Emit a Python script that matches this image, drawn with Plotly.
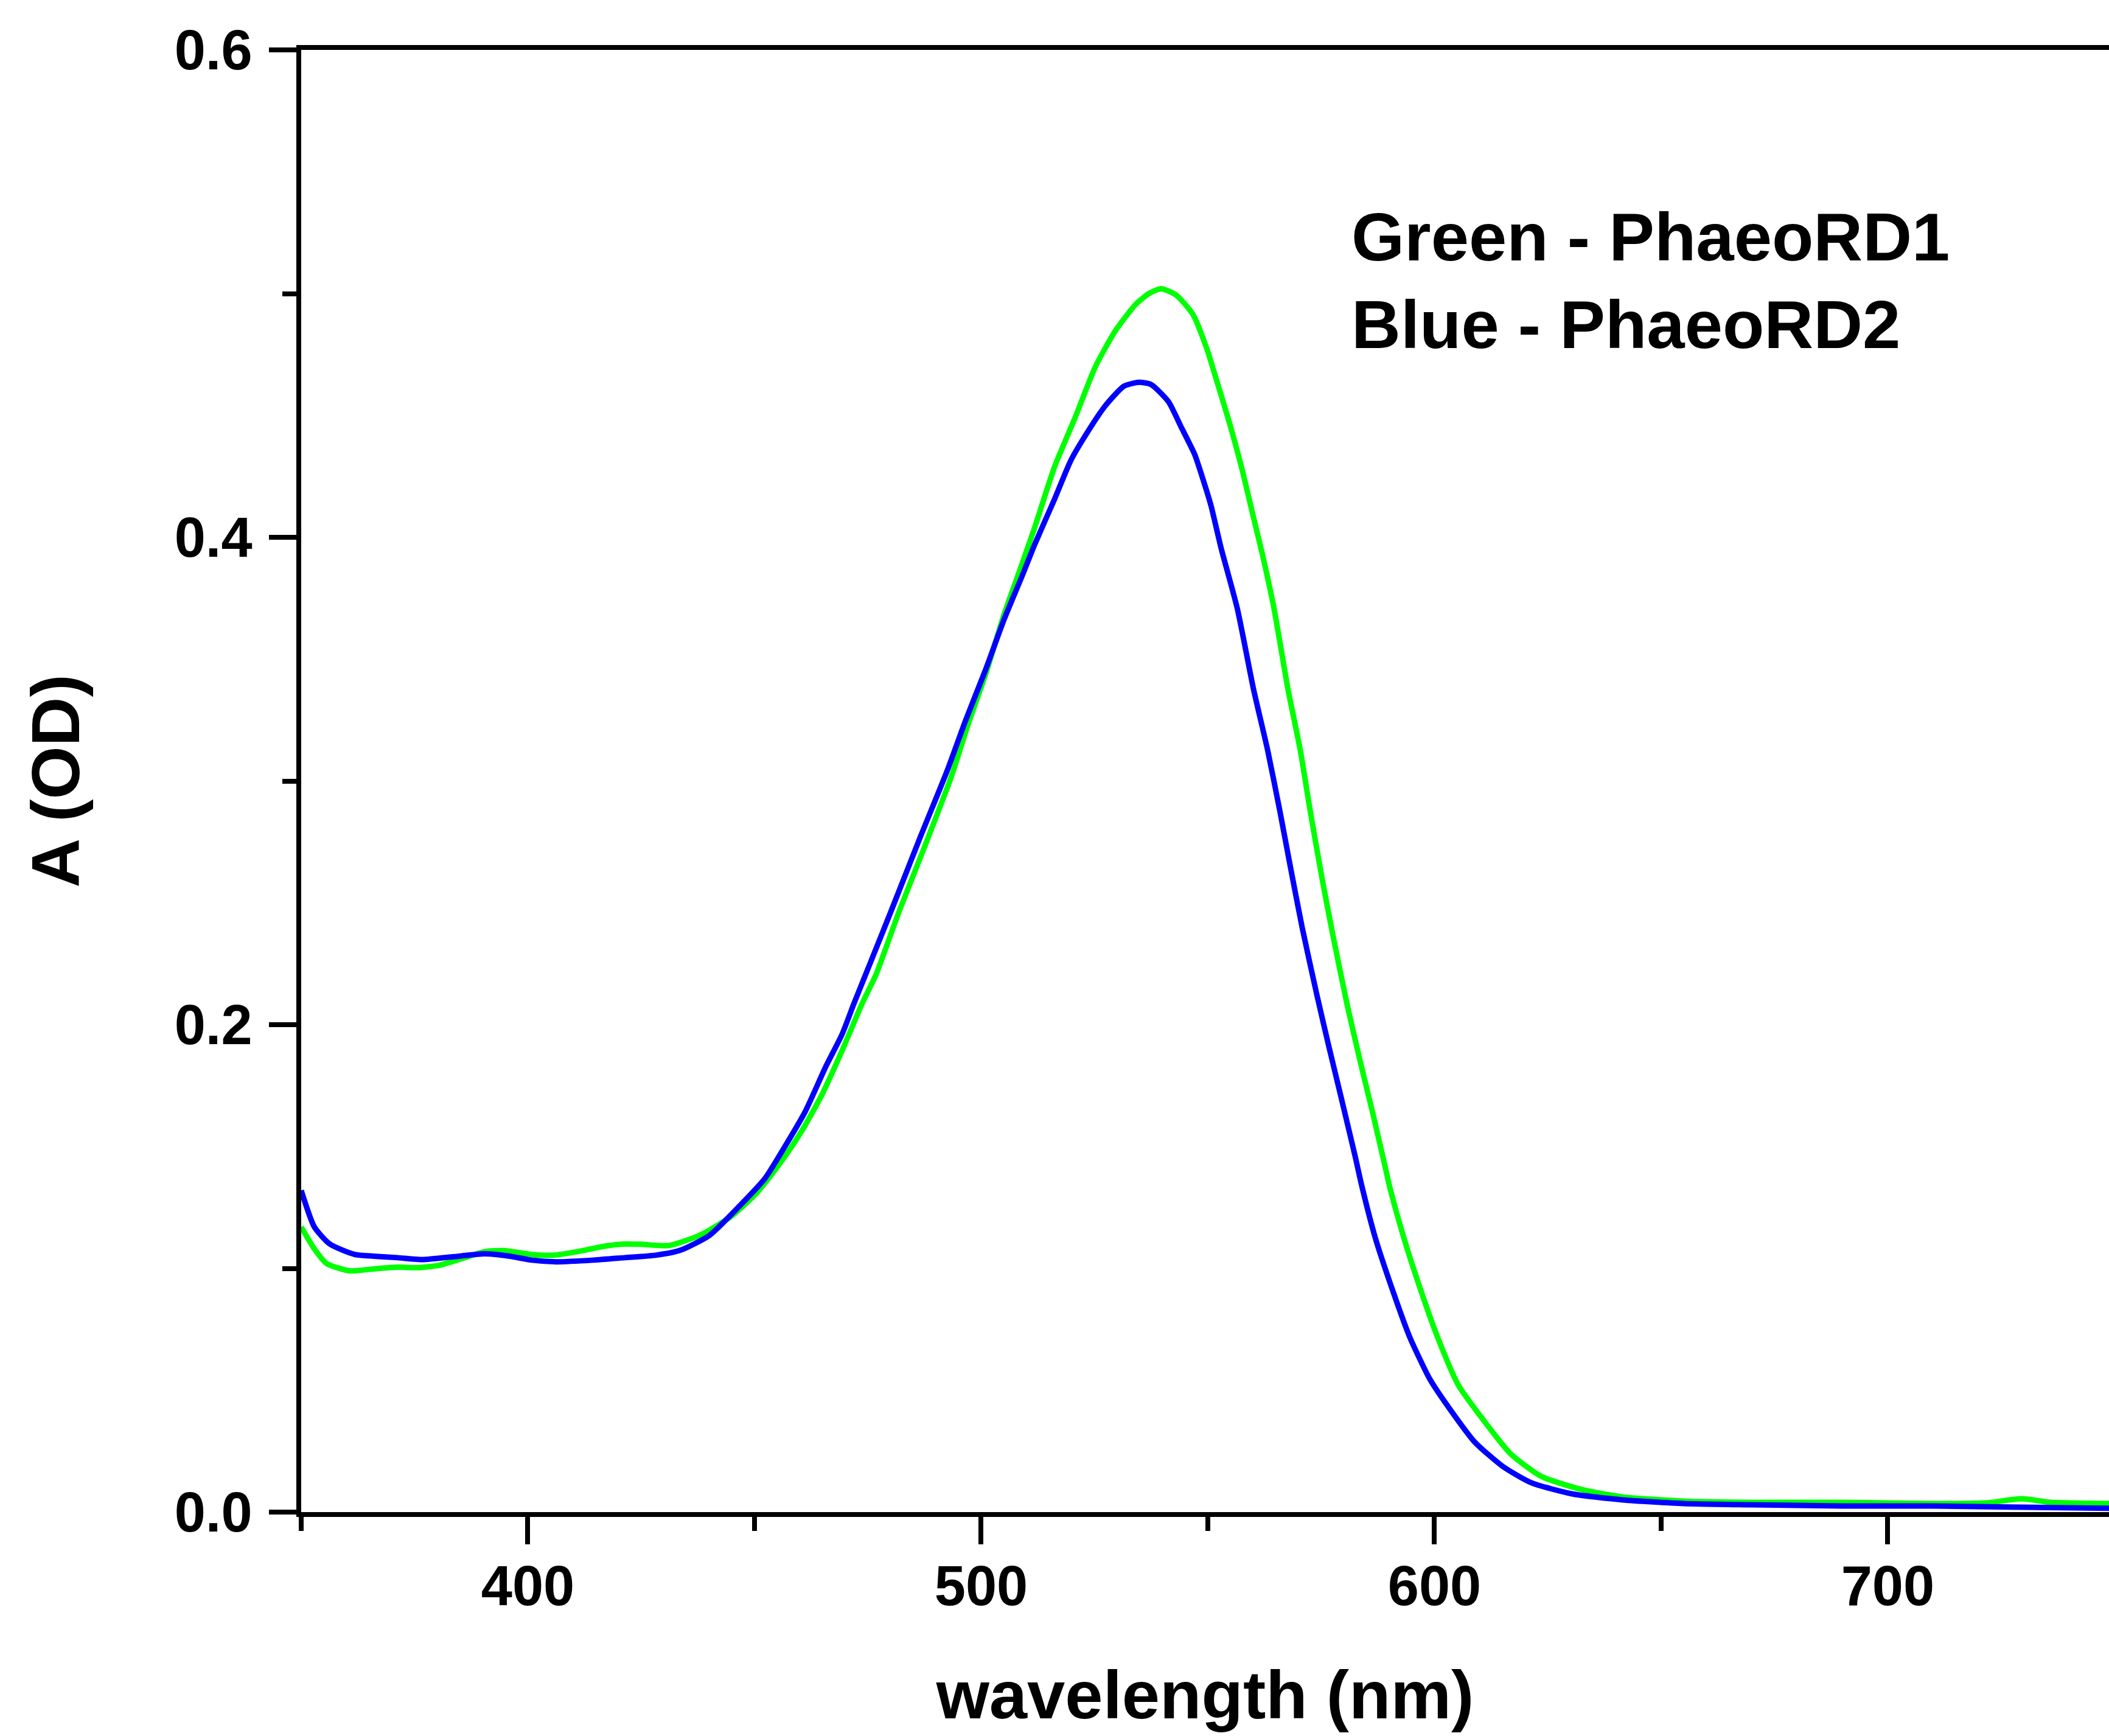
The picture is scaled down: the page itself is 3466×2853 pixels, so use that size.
import plotly.graph_objects as go

# PhaeoRD2 (blue)
blue_wl = [350, 352.9, 356.3, 361.8, 366, 371.3, 376.8, 383.7, 390.5, 396, 400.8, 406.3,
           414.5, 421.4, 428.2, 433.6, 440.1, 446.9, 452.3, 456.7, 461.2, 465.7, 469.3,
           471.9, 474.6, 480, 486.7, 492.5, 496.6, 501, 505, 509, 511.8, 516.2, 519.8,
           523.4, 527.4, 531.5, 534.8, 537.5, 541.3, 544, 547.1, 548.9, 550.7, 552.9,
           556.5, 560.1, 563.2, 565.9, 568.1, 570.8, 574, 576.6, 579.3, 582.5, 584,
           586.9, 590.9, 594.5, 599, 603.5, 608.9, 615.1, 621.4, 630.3, 641.5, 655, 670,
           690, 710, 730, 750]
blue_a = [0.132, 0.117, 0.110, 0.1057, 0.105, 0.1044, 0.1036, 0.1048, 0.106, 0.105, 0.1034,
          0.1027, 0.1034, 0.1044, 0.1054, 0.1074, 0.1136, 0.126, 0.1369, 0.150, 0.1644,
          0.1827, 0.196, 0.2085, 0.221, 0.246, 0.2776, 0.3042, 0.325, 0.3458, 0.366, 0.384,
          0.397, 0.4157, 0.4316, 0.443, 0.454, 0.462, 0.4636, 0.4627, 0.4557, 0.4457, 0.434,
          0.424, 0.413, 0.3958, 0.3708, 0.3375, 0.3126, 0.2876, 0.2659, 0.240, 0.2127,
          0.1918, 0.171, 0.146, 0.1336, 0.1128, 0.0903, 0.072, 0.0545, 0.042, 0.0287, 0.0187,
          0.012, 0.0075, 0.005, 0.0035, 0.003, 0.0025, 0.0025, 0.002, 0.0015]

# PhaeoRD1 (green)
green_wl = [350, 352.9, 355.6, 360.7, 366.6, 371.3, 375.5, 380.3, 385.1, 390.5, 394.7, 400.8,
            405.6, 411, 416.6, 421.4, 424.8, 431.2, 437.9, 444.6, 450.5, 455.8, 460.3, 464.8,
            469.3, 473.7, 476.9, 481.8, 487.6, 493.4, 497, 501, 505, 509, 511.8, 516.2, 520.7,
            525.2, 529.7, 534.1, 537, 539.7, 543, 546.7, 549.8, 552, 554.7, 557.4, 560.1,
            562.1, 564.6, 567.7, 570.4, 572.6, 575.3, 577.5, 580.7, 583.8, 586.5, 589.2,
            590.1, 593.2, 596.8, 600.8, 605.3, 610.7, 616.9, 623.6, 632.6, 641.5, 655, 670,
            690, 710, 722, 729.5, 736, 750]
green_a = [0.117, 0.108, 0.102, 0.099, 0.0999, 0.1005, 0.1003, 0.1012, 0.1038, 0.1069, 0.1073,
           0.1057, 0.1054, 0.1069, 0.109, 0.110, 0.1099, 0.1094, 0.1136, 0.121, 0.131, 0.1436,
           0.156, 0.171, 0.1893, 0.2085, 0.221, 0.246, 0.2734, 0.3017, 0.3226, 0.344, 0.368,
           0.389, 0.404, 0.429, 0.449, 0.470, 0.485, 0.4956, 0.500, 0.502, 0.4994, 0.4915,
           0.4773, 0.464, 0.4474, 0.429, 0.408, 0.3925, 0.3708, 0.3375, 0.3126, 0.2876, 0.259,
           0.2376, 0.2085, 0.1835, 0.1628, 0.141, 0.1336, 0.1128, 0.092, 0.0712, 0.052, 0.038,
           0.0237, 0.0146, 0.0092, 0.0062, 0.0045, 0.004, 0.004, 0.0035, 0.0038, 0.0055, 0.004,
           0.0035]

labels = ["Green - PhaeoRD1", "Blue - PhaeoRD2"]
FONT = "Liberation Sans, Arial, sans-serif"

fig = go.Figure()
fig.add_trace(go.Scatter(x=green_wl, y=green_a, mode="lines", name="PhaeoRD1",
                         line=dict(color="#00FF00", width=9, shape="spline", smoothing=0.6)))
fig.add_trace(go.Scatter(x=blue_wl, y=blue_a, mode="lines", name="PhaeoRD2",
                         line=dict(color="#0000FF", width=9, shape="spline", smoothing=0.6)))

axis_common = dict(
    showline=True, linewidth=8, linecolor="black",
    ticks="outside", ticklen=45, tickwidth=8, tickcolor="black",
    showgrid=False, zeroline=False,
    tickfont=dict(family=FONT, size=92, color="black", weight="bold"),
)

fig.update_xaxes(
    range=[350, 748.8], tick0=0, dtick=100, mirror=True, ticklabelstandoff=-10,
    minor=dict(dtick=50, tick0=0, ticks="outside", ticklen=23, tickwidth=8,
               tickcolor="black", showgrid=False),
    title=dict(text="wavelength (nm)", standoff=92,
               font=dict(family=FONT, size=112, color="black", weight="bold")),
    **axis_common,
)
fig.update_yaxes(
    range=[0, 0.6], tick0=0, dtick=0.2, tickformat=".1f", mirror=False, ticklabelstandoff=9,
    minor=dict(dtick=0.1, tick0=0, ticks="outside", ticklen=23, tickwidth=8,
               tickcolor="black", showgrid=False),
    title=dict(text="A (OD)", standoff=121,
               font=dict(family=FONT, size=112, color="black", weight="bold")),
    **axis_common,
)

fig.add_annotation(x=0.5803, y=0.8722, xref="paper", yref="paper", text=labels[0],
                   showarrow=False, xanchor="left", yanchor="middle",
                   font=dict(family=FONT, size=112, color="black", weight="bold"))
fig.add_annotation(x=0.5803, y=0.8123, xref="paper", yref="paper", text=labels[1],
                   showarrow=False, xanchor="left", yanchor="middle",
                   font=dict(family=FONT, size=112, color="black", weight="bold"))

fig.update_layout(
    width=3466, height=2853,
    margin=dict(l=495, r=0, t=82, b=368, pad=0),
    plot_bgcolor="white", paper_bgcolor="white",
    showlegend=False,
    font=dict(family=FONT, color="black"),
)

fig.write_html("out.html")
